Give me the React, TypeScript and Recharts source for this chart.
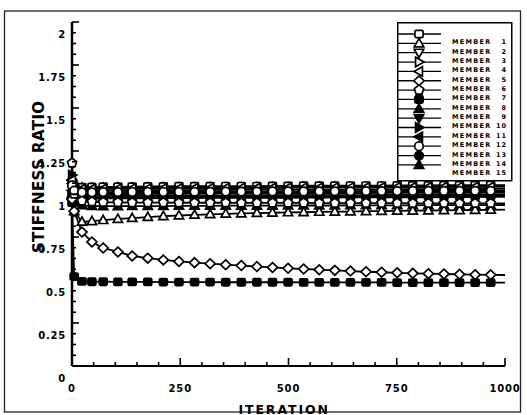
import React from "react";
import { LineChart, Line, XAxis, YAxis, Legend } from "recharts";

// ---------- data ----------
const iterations = [0, 5, 23, 46, 72, 106, 139, 175, 211, 247, 283, 319, 355, 391, 427, 463, 499, 535, 571, 607, 643, 679, 715, 751, 787, 823, 859, 895, 931, 967, 1000];

const member1 = [1.0, 1.03, 1.04, 1.041, 1.042, 1.042, 1.043, 1.044, 1.044, 1.045, 1.045, 1.045, 1.046, 1.046, 1.046, 1.047, 1.047, 1.048, 1.048, 1.048, 1.049, 1.049, 1.049, 1.05, 1.05, 1.05, 1.051, 1.051, 1.051, 1.052, 1.052];
const member2 = [1.0, 0.9, 0.838, 0.842, 0.848, 0.855, 0.86, 0.866, 0.871, 0.875, 0.879, 0.882, 0.885, 0.887, 0.889, 0.891, 0.893, 0.894, 0.896, 0.897, 0.898, 0.9, 0.901, 0.902, 0.903, 0.904, 0.905, 0.906, 0.907, 0.908, 0.909];
const member3 = [1.06, 1.03, 1.02, 1.02, 1.021, 1.021, 1.022, 1.022, 1.023, 1.023, 1.023, 1.024, 1.024, 1.024, 1.025, 1.025, 1.025, 1.026, 1.026, 1.026, 1.027, 1.027, 1.027, 1.028, 1.028, 1.028, 1.029, 1.029, 1.029, 1.03, 1.03];
const member4 = [1.02, 1.0, 1.0, 1.002, 1.003, 1.004, 1.005, 1.005, 1.006, 1.006, 1.007, 1.007, 1.008, 1.008, 1.009, 1.009, 1.01, 1.01, 1.011, 1.011, 1.012, 1.012, 1.013, 1.013, 1.014, 1.014, 1.015, 1.015, 1.016, 1.016, 1.017];
const member5 = [1.08, 1.04, 1.03, 1.03, 1.031, 1.031, 1.032, 1.032, 1.033, 1.033, 1.034, 1.034, 1.035, 1.035, 1.036, 1.036, 1.037, 1.037, 1.037, 1.038, 1.038, 1.039, 1.039, 1.04, 1.04, 1.04, 1.041, 1.041, 1.042, 1.042, 1.043];
const member6 = [0.97, 0.9, 0.779, 0.721, 0.686, 0.663, 0.64, 0.627, 0.617, 0.608, 0.601, 0.595, 0.589, 0.584, 0.578, 0.573, 0.568, 0.564, 0.56, 0.556, 0.552, 0.548, 0.545, 0.542, 0.539, 0.537, 0.535, 0.533, 0.531, 0.53, 0.529];
const member7 = [1.18, 1.0, 0.96, 0.955, 0.952, 0.951, 0.95, 0.95, 0.95, 0.949, 0.949, 0.949, 0.949, 0.948, 0.948, 0.948, 0.948, 0.948, 0.947, 0.947, 0.947, 0.947, 0.947, 0.947, 0.946, 0.946, 0.946, 0.946, 0.946, 0.946, 0.946];
const member8 = [0.95, 0.52, 0.492, 0.49, 0.49, 0.489, 0.489, 0.489, 0.488, 0.488, 0.488, 0.488, 0.487, 0.487, 0.487, 0.487, 0.487, 0.486, 0.486, 0.486, 0.486, 0.486, 0.486, 0.485, 0.485, 0.485, 0.485, 0.485, 0.485, 0.485, 0.485];
const member9 = [1.0, 0.95, 0.934, 0.93, 0.929, 0.929, 0.93, 0.93, 0.93, 0.931, 0.931, 0.931, 0.932, 0.932, 0.932, 0.932, 0.933, 0.933, 0.933, 0.933, 0.934, 0.934, 0.934, 0.934, 0.934, 0.935, 0.935, 0.935, 0.935, 0.935, 0.936];
const member10 = [1.04, 1.0, 0.99, 0.988, 0.988, 0.989, 0.989, 0.99, 0.99, 0.99, 0.991, 0.991, 0.991, 0.992, 0.992, 0.992, 0.993, 0.993, 0.993, 0.994, 0.994, 0.994, 0.995, 0.995, 0.995, 0.996, 0.996, 0.996, 0.997, 0.997, 0.997];
const member11 = [1.11, 1.02, 1.0, 0.999, 0.999, 1.0, 1.0, 1.001, 1.001, 1.001, 1.002, 1.002, 1.002, 1.003, 1.003, 1.003, 1.004, 1.004, 1.004, 1.005, 1.005, 1.005, 1.006, 1.006, 1.006, 1.007, 1.007, 1.007, 1.008, 1.008, 1.008];
const member12 = [1.02, 0.99, 0.982, 0.981, 0.981, 0.982, 0.982, 0.982, 0.983, 0.983, 0.983, 0.984, 0.984, 0.984, 0.985, 0.985, 0.985, 0.986, 0.986, 0.986, 0.987, 0.987, 0.987, 0.988, 0.988, 0.988, 0.989, 0.989, 0.989, 0.99, 0.99];
const member13 = [1.05, 1.02, 1.01, 1.01, 1.011, 1.011, 1.012, 1.012, 1.012, 1.013, 1.013, 1.013, 1.014, 1.014, 1.014, 1.015, 1.015, 1.015, 1.016, 1.016, 1.016, 1.017, 1.017, 1.017, 1.018, 1.018, 1.018, 1.019, 1.019, 1.019, 1.02];
const member14 = [1.06, 0.99, 0.976, 0.974, 0.974, 0.975, 0.975, 0.975, 0.976, 0.976, 0.976, 0.977, 0.977, 0.977, 0.978, 0.978, 0.978, 0.979, 0.979, 0.979, 0.98, 0.98, 0.98, 0.981, 0.981, 0.981, 0.982, 0.982, 0.982, 0.983, 0.983];
const member15 = [1.1, 1.05, 1.036, 1.035, 1.035, 1.036, 1.036, 1.036, 1.037, 1.037, 1.037, 1.038, 1.038, 1.038, 1.039, 1.039, 1.039, 1.04, 1.04, 1.04, 1.041, 1.041, 1.041, 1.042, 1.042, 1.042, 1.043, 1.043, 1.043, 1.044, 1.044];

const memberNames = ["MEMBER 1", "MEMBER 2", "MEMBER 3", "MEMBER 4", "MEMBER 5", "MEMBER 6", "MEMBER 7", "MEMBER 8", "MEMBER 9", "MEMBER 10", "MEMBER 11", "MEMBER 12", "MEMBER 13", "MEMBER 14", "MEMBER 15"];
const memberValues = [member1, member2, member3, member4, member5, member6, member7, member8, member9, member10, member11, member12, member13, member14, member15];
const memberShapes = ["square", "triUp", "triDown", "triRight", "triLeft", "diamond", "pentagon", "square", "triUp", "triDown", "triRight", "triLeft", "circle", "circle", "triUp"];
const memberFilled = [false, false, false, false, false, false, false, true, true, true, true, true, false, true, true];

const yMajorTicks = [0, 0.25, 0.5, 0.75, 1, 1.25, 1.5, 1.75, 2];
const yTickLabels = ["0", "0.25", "0.5", "0.75", "1", "1.25", "1.5", "1.75", "2"];
const xMajorTicks = [0, 250, 500, 750, 1000];
const xTickLabels = ["0", "250", "500", "750", "1000"];

const yTitle = "STIFFNESS RATIO";
const xTitle = "ITERATION";

// ---------- derived ----------
const members = memberNames.map((name, i) => ({
  key: `m${i + 1}`,
  name,
  shape: memberShapes[i],
  filled: memberFilled[i],
  index: i,
}));

const tableData = iterations.map((it, i) => {
  const row: Record<string, number> = { iter: it };
  members.forEach((m, j) => {
    row[m.key] = memberValues[j][i];
  });
  return row;
});

const subdivide = (majors: number[], n: number) => {
  const out: number[] = [];
  for (let i = 0; i < majors.length - 1; i++) {
    for (let k = 0; k < n; k++) out.push(majors[i] + ((majors[i + 1] - majors[i]) * k) / n);
  }
  out.push(majors[majors.length - 1]);
  return out;
};
const yTicks = subdivide(yMajorTicks, 4);
const xTicks = subdivide(xMajorTicks, 5);

const majorIndex = (majors: number[], v: number) => majors.findIndex((m) => Math.abs(m - v) < 1e-6);

const FONT = "'DejaVu Sans', 'Liberation Sans', sans-serif";

// ---------- marker shapes ----------
function Marker({ shape, cx, cy, r, filled }: { shape: string; cx: number; cy: number; r: number; filled: boolean }) {
  const fill = filled ? "#000" : "#fff";
  const common = { fill, stroke: "#000", strokeWidth: 1.7 };
  const pts = (arr: number[][]) => arr.map((p) => `${cx + p[0] * r},${cy + p[1] * r}`).join(" ");
  switch (shape) {
    case "square":
      return <rect x={cx - r * 0.95} y={cy - r * 0.85} width={r * 1.9} height={r * 1.7} rx={r * 0.3} {...common} />;
    case "circle":
      return <circle cx={cx} cy={cy} r={r} {...common} />;
    case "triUp":
      return <polygon points={pts([[0, -1.15], [1.1, 0.8], [-1.1, 0.8]])} {...common} />;
    case "triDown":
      return <polygon points={pts([[0, 1.15], [1.1, -0.8], [-1.1, -0.8]])} {...common} />;
    case "triRight":
      return <polygon points={pts([[1.15, 0], [-0.8, 1.1], [-0.8, -1.1]])} {...common} />;
    case "triLeft":
      return <polygon points={pts([[-1.15, 0], [0.8, 1.1], [0.8, -1.1]])} {...common} />;
    case "diamond":
      return <polygon points={pts([[0, -1.15], [1.2, 0], [0, 1.15], [-1.2, 0]])} {...common} />;
    case "pentagon":
    default: {
      const p: number[][] = [];
      for (let k = 0; k < 5; k++) {
        const a = -Math.PI / 2 + (k * 2 * Math.PI) / 5;
        p.push([Math.cos(a) * 1.15, Math.sin(a) * 1.15]);
      }
      return <polygon points={pts(p)} {...common} />;
    }
  }
}

// ---------- axis ticks ----------
const YTick = (props: any) => {
  const { x, y, payload } = props;
  const mi = majorIndex(yMajorTicks, payload.value);
  const major = mi >= 0;
  return (
    <g>
      <line x1={x} x2={x + (major ? 7 : 4)} y1={y} y2={y} stroke="#000" strokeWidth={1.6} />
      {major && (
        <text
          x={x - 6}
          y={y + 12}
          dy="0.36em"
          textAnchor="end"
          fontFamily={FONT}
          fontWeight="bold"
          fontSize={10}
          letterSpacing={0.8}
          fill="#000"
        >
          {yTickLabels[mi]}
        </text>
      )}
    </g>
  );
};

const XTick = (props: any) => {
  const { x, y, payload } = props;
  const mi = majorIndex(xMajorTicks, payload.value);
  const major = mi >= 0;
  return (
    <g>
      <line x1={x} x2={x} y1={y} y2={y - (major ? 8 : 4)} stroke="#000" strokeWidth={1.6} />
      {major && (
        <text
          x={x}
          y={y + 22}
          dy="0.36em"
          textAnchor="middle"
          fontFamily={FONT}
          fontWeight="bold"
          fontSize={10}
          letterSpacing={0.8}
          fill="#000"
        >
          {xTickLabels[mi]}
        </text>
      )}
    </g>
  );
};

// ---------- legend ----------
const LegendContent = (props: any) => {
  const payload = (props.payload || []).slice();
  const ordered = members.filter((m) => payload.some((p: any) => p.dataKey === m.key));
  const rowH = 9.35;
  const textY0 = 20;
  return (
    <svg width={116} height={162} style={{ display: "block", overflow: "visible" }}>
      <rect x={0.75} y={0.75} width={114} height={158} fill="#fff" stroke="#000" strokeWidth={1.5} />
      {ordered.map((m, i) => {
        const ty = textY0 + i * rowH;
        const ly = ty - 8;
        const parts = m.name.split(" ");
        return (
          <g key={m.key}>
            <line x1={0} x2={44} y1={ly} y2={ly} stroke="#000" strokeWidth={1.3} />
            <Marker shape={m.shape} cx={22} cy={ly} r={4.3} filled={m.filled} />
            <text x={55} y={ty} dy="0.36em" fontFamily={FONT} fontWeight="bold" fontSize={6.5} letterSpacing={1.3} fill="#000">
              {parts[0]}
            </text>
            <text x={110} y={ty} dy="0.36em" textAnchor="end" fontFamily={FONT} fontWeight="bold" fontSize={6.5} letterSpacing={1} fill="#000">
              {parts[1]}
            </text>
          </g>
        );
      })}
    </svg>
  );
};

// ---------- axis titles ----------
const YTitle = (props: any) => {
  const vb = props.viewBox || { x: 10, y: 22, width: 62, height: 344 };
  const cx = vb.x + 29;
  const cy = vb.y + vb.height * 0.45;
  return (
    <text
      x={cx}
      y={cy}
      transform={`rotate(-90 ${cx} ${cy})`}
      textAnchor="middle"
      dominantBaseline="central"
      fontFamily={FONT}
      fontWeight="bold"
      fontSize={15}
      letterSpacing={0.4}
      fill="#000"
    >
      {yTitle}
    </text>
  );
};

const XTitle = (props: any) => {
  const vb = props.viewBox || { x: 72, y: 366, width: 433, height: 30 };
  return (
    <text
      x={vb.x + vb.width * 0.49}
      y={vb.y + 47.5}
      textAnchor="middle"
      fontFamily={FONT}
      fontWeight="bold"
      fontSize={12.5}
      letterSpacing={1.9}
      fill="#000"
    >
      {xTitle}
    </text>
  );
};

// draw filled-marker series first so open markers sit on top
const drawOrder = [...members].sort((a, b) => Number(b.filled) - Number(a.filled));

export default function App() {
  return (
    <div style={{ position: "absolute", left: 0, top: 0, width: 527, height: 415, background: "#fff", overflow: "hidden" }}>
      <svg width={527} height={415} style={{ position: "absolute", left: 0, top: 0 }}>
        <rect x={4.5} y={11} width={516} height={401} fill="none" stroke="#222" strokeWidth={1.3} />
      </svg>
      <div style={{ position: "absolute", left: 0, top: 0 }}>
        <LineChart width={527} height={415} data={tableData} margin={{ top: 22, right: 22, bottom: 19, left: 10 }}>
          <XAxis
            dataKey="iter"
            type="number"
            domain={[0, 1000]}
            ticks={xTicks}
            interval={0}
            tickSize={0}
            tickMargin={0}
            tick={(p: any) => <XTick {...p} />}
            axisLine={{ stroke: "#000", strokeWidth: 2.2 }}
            height={30}
            label={(p: any) => <XTitle {...p} />}
          />
          <YAxis
            type="number"
            domain={[0, 2]}
            ticks={yTicks}
            interval={0}
            tickSize={0}
            tickMargin={0}
            tick={(p: any) => <YTick {...p} />}
            axisLine={{ stroke: "#000", strokeWidth: 2.5 }}
            width={62}
            label={(p: any) => <YTitle {...p} />}
          />
          <Legend
            content={(p: any) => <LegendContent {...p} />}
            layout="horizontal"
            verticalAlign="middle"
            align="center"
            wrapperStyle={{ position: "absolute", left: 397, top: 22, width: 116, height: 162 }}
          />
          {drawOrder.map((m) => (
            <Line
              key={m.key}
              dataKey={m.key}
              name={m.name}
              type="linear"
              stroke="#000"
              strokeWidth={1.8}
              isAnimationActive={false}
              activeDot={false}
              dot={(p: any) => {
                const k = `${m.key}-${p.index}`;
                if (p.payload && p.payload.iter === 1000) return <g key={k} />;
                return (
                  <g key={k}>
                    <Marker shape={m.shape} cx={p.cx} cy={p.cy} r={4.2} filled={m.filled} />
                  </g>
                );
              }}
            />
          ))}
        </LineChart>
      </div>
    </div>
  );
}
